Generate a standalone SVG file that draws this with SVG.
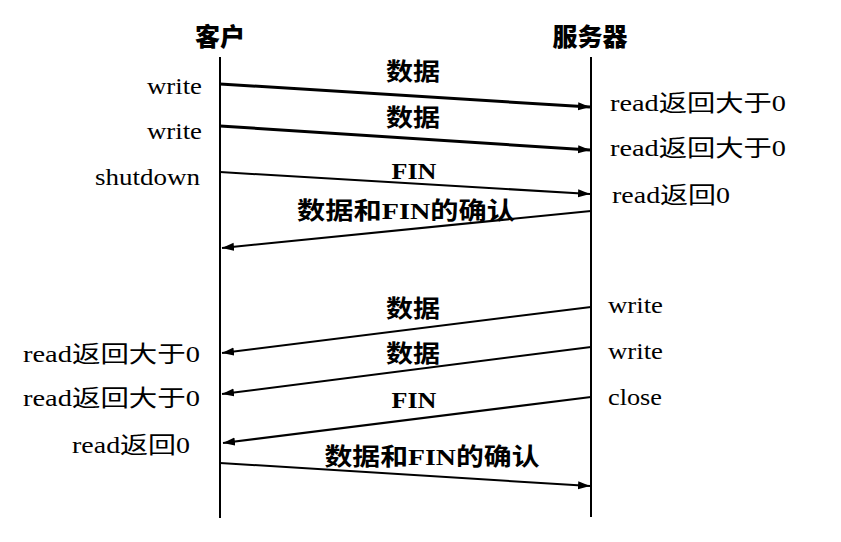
<svg xmlns="http://www.w3.org/2000/svg" width="841" height="542" viewBox="0 0 841 542">
<defs>
<style>
.t{font-family:"Liberation Serif","Noto Sans CJK SC",serif;font-size:23px;fill:#000}
.h{font-family:"Noto Sans CJK SC",sans-serif;font-size:25px;font-weight:900;fill:#000}
.m{font-family:"Liberation Serif","Noto Sans CJK SC",serif;font-size:24px;font-weight:bold;fill:#000}
.life{stroke:#000;stroke-width:2;fill:none}
.a{stroke:#000;fill:none;marker-end:url(#ah)}
.thick{stroke-width:3}
.thin{stroke-width:2}
</style>
<marker id="ah" markerUnits="userSpaceOnUse" markerWidth="14" markerHeight="10" refX="12" refY="5" orient="auto">
<path d="M0,1 L12,5 L0,9 Z" fill="#000"/>
</marker>
</defs>
<rect width="841" height="542" fill="#fff"/>
<g id="client">
<text class="h" x="220" y="46" text-anchor="middle">客户</text>
<line class="life" x1="220" y1="57" x2="220" y2="518"/>
</g>
<g id="server">
<text class="h" x="590" y="46" text-anchor="middle">服务器</text>
<line class="life" x1="591" y1="57" x2="591" y2="517"/>
</g>
<g id="client-labels">
<text class="t" x="202" y="94" text-anchor="end" textLength="55" lengthAdjust="spacingAndGlyphs">write</text>
<text class="t" x="202" y="139" text-anchor="end" textLength="55" lengthAdjust="spacingAndGlyphs">write</text>
<text class="t" x="200" y="185" text-anchor="end" textLength="105" lengthAdjust="spacingAndGlyphs">shutdown</text>
<text class="t" x="23" y="362" textLength="177" lengthAdjust="spacingAndGlyphs">read返回大于0</text>
<text class="t" x="23" y="406" textLength="177" lengthAdjust="spacingAndGlyphs">read返回大于0</text>
<text class="t" x="72" y="453" textLength="118" lengthAdjust="spacingAndGlyphs">read返回0</text>
</g>
<g id="server-labels">
<text class="t" x="610" y="111" textLength="176" lengthAdjust="spacingAndGlyphs">read返回大于0</text>
<text class="t" x="610" y="156" textLength="176" lengthAdjust="spacingAndGlyphs">read返回大于0</text>
<text class="t" x="612" y="203" textLength="118" lengthAdjust="spacingAndGlyphs">read返回0</text>
<text class="t" x="608" y="313" textLength="55" lengthAdjust="spacingAndGlyphs">write</text>
<text class="t" x="608" y="359" textLength="55" lengthAdjust="spacingAndGlyphs">write</text>
<text class="t" x="608" y="405" textLength="54" lengthAdjust="spacingAndGlyphs">close</text>
</g>
<g id="connectors">
<line class="a thick" x1="220" y1="84" x2="590" y2="107"/>
<line class="a thick" x1="220" y1="126" x2="590" y2="150"/>
<line class="a thin" x1="220" y1="172" x2="590" y2="194"/>
<line class="a thin" x1="591" y1="211" x2="222" y2="248"/>
<line class="a thin" x1="591" y1="307" x2="222" y2="353"/>
<line class="a thin" x1="591" y1="347" x2="222" y2="394"/>
<line class="a thin" x1="591" y1="397" x2="223" y2="443"/>
<line class="a thin" x1="220" y1="463" x2="590" y2="486"/>
</g>
<g id="connector-labels">
<text class="m" x="413" y="80" text-anchor="middle" textLength="54" lengthAdjust="spacingAndGlyphs">数据</text>
<text class="m" x="413" y="126" text-anchor="middle" textLength="54" lengthAdjust="spacingAndGlyphs">数据</text>
<text class="m" x="414" y="179" text-anchor="middle" textLength="45" lengthAdjust="spacingAndGlyphs">FIN</text>
<text class="m" x="406" y="219" text-anchor="middle" textLength="218" lengthAdjust="spacingAndGlyphs">数据和FIN的确认</text>
<text class="m" x="413" y="317" text-anchor="middle" textLength="54" lengthAdjust="spacingAndGlyphs">数据</text>
<text class="m" x="413" y="362" text-anchor="middle" textLength="54" lengthAdjust="spacingAndGlyphs">数据</text>
<text class="m" x="414" y="408" text-anchor="middle" textLength="45" lengthAdjust="spacingAndGlyphs">FIN</text>
<text class="m" x="432" y="465" text-anchor="middle" textLength="215" lengthAdjust="spacingAndGlyphs">数据和FIN的确认</text>
</g>
</svg>
